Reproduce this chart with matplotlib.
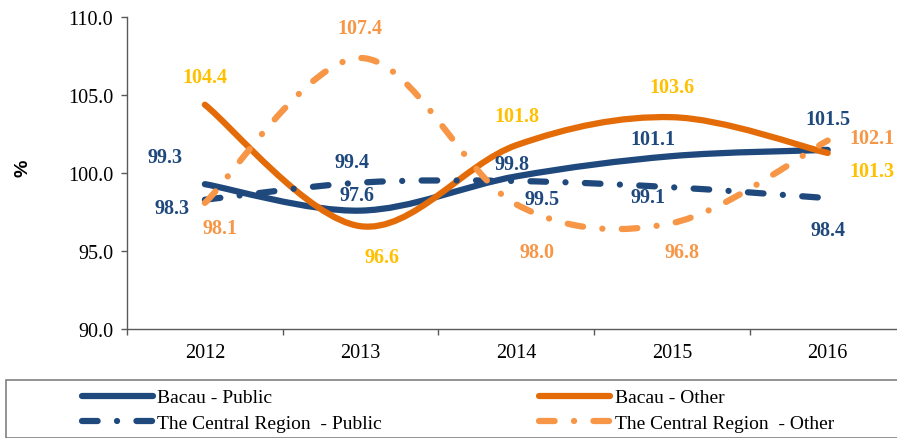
import matplotlib
matplotlib.use("Agg")
import matplotlib.pyplot as plt
from matplotlib.path import Path
from matplotlib.patches import PathPatch, Rectangle
from matplotlib.lines import Line2D

# data
years = ["2012", "2013", "2014", "2015", "2016"]
bacau_public = [99.3, 97.6, 99.8, 101.1, 101.5]
bacau_other = [104.4, 96.6, 101.8, 103.6, 101.3]
central_public = [98.3, 99.4, 99.5, 99.1, 98.4]
central_other = [98.1, 107.4, 98.0, 96.8, 102.1]
names = ["Bacau - Public", "Bacau - Other",
         "The Central Region  - Public", "The Central Region  - Other"]

DARK_BLUE = "#1F497D"
ORANGE = "#E36C09"
LIGHT_ORANGE = "#F79646"
GOLD = "#FFC000"
DASHDOT = (0, (2.5, 3.1, 0.01, 3.1))

plt.rcParams["font.family"] = ["Liberation Serif", "DejaVu Serif"]


def smooth_path(xs, ys):
    # excel-like smoothed line: cubic bezier through every point
    pts = list(zip(xs, ys))
    n = len(pts)
    verts = [pts[0]]
    codes = [Path.MOVETO]
    for i in range(n - 1):
        p0 = pts[max(i - 1, 0)]
        p1 = pts[i]
        p2 = pts[i + 1]
        p3 = pts[min(i + 2, n - 1)]
        c1 = (p1[0] + (p2[0] - p0[0]) / 6, p1[1] + (p2[1] - p0[1]) / 6)
        c2 = (p2[0] - (p3[0] - p1[0]) / 6, p2[1] - (p3[1] - p1[1]) / 6)
        verts += [c1, c2, p2]
        codes += [Path.CURVE4] * 3
    return Path(verts, codes)


fig = plt.figure(figsize=(8.97, 4.39), dpi=100)
ax = fig.add_axes([127 / 897, 1 - 330 / 439, 1 - 127 / 897, (330 - 18.5) / 439])

x = list(range(len(years)))
series = [
    (bacau_public, DARK_BLUE, "-", DARK_BLUE,
     [(-40, 27), (-4, 16), (-4, 12), (-19, 17), (0, 31)]),
    (bacau_other, ORANGE, "-", GOLD,
     [(0, 28), (21, -31), (1, 29), (0, 30), (44, -18)]),
    (central_public, DARK_BLUE, DASHDOT, DARK_BLUE,
     [(-33, -8), (-9, 21), (26, -18), (-24, -10), (0, -32)]),
    (central_other, LIGHT_ORANGE, DASHDOT, LIGHT_ORANGE,
     [(15, -25), (-1, 30), (21, -48), (10, -29), (44, 3)]),
]

handles = []
for (vals, col, ls, lab_col, offs), name in zip(series, names):
    patch = PathPatch(smooth_path(x, vals), fill=False, edgecolor=col,
                      linewidth=4.5, linestyle=ls, capstyle="round",
                      joinstyle="round", zorder=3)
    ax.add_patch(patch)
    handles.append(Line2D([], [], color=col, lw=4.5, linestyle=ls,
                          dash_capstyle="round", solid_capstyle="round",
                          label=name))

for vals, col, ls, lab_col, offs in series:
    for xi, v, (dx, dy) in zip(x, vals, offs):
        ax.annotate(f"{v:.1f}", (xi, v), xytext=(dx, dy),
                    textcoords="offset pixels", ha="center", va="center",
                    color=lab_col, fontsize=14.5, fontweight="bold", zorder=5)

ax.set_xlim(-0.5, 4.445)
ax.set_ylim(90, 110)
ax.set_yticks([90, 95, 100, 105, 110])
ax.set_yticklabels([f"{t:.1f}" for t in [90, 95, 100, 105, 110]])
ax.set_xticks(x)
ax.set_xticklabels(years)
ax.set_xticks([-0.5, 0.5, 1.5, 2.5, 3.5], minor=True)
ax.tick_params(axis="x", which="major", length=0, pad=10, labelsize=14.5)
ax.tick_params(axis="x", which="minor", length=4, width=1, color="#595959",
               direction="out")
ax.tick_params(axis="y", length=4, width=1, color="#595959", pad=6,
               labelsize=14.5)
for s in ["top", "right"]:
    ax.spines[s].set_visible(False)
for s in ["left", "bottom"]:
    ax.spines[s].set_color("#595959")
    ax.spines[s].set_linewidth(1)

fig.text(23 / 897, 1 - 168 / 439, "%", rotation=90, ha="center", va="center",
         fontsize=14, fontweight="bold", family="Liberation Sans")

# legend box at the bottom
fig.patches.append(Rectangle((6 / 897, 0), 1.0, 1 - 381 / 439,
                             transform=fig.transFigure, fill=False,
                             edgecolor="#808080", linewidth=1.2))
fig.legend(handles=[handles[0], handles[2], handles[1], handles[3]],
           ncol=2, frameon=False, loc="upper left",
           bbox_to_anchor=(74 / 897, 1 - 382 / 439), fontsize=14,
           handlelength=3.65, handletextpad=0.22, columnspacing=8.1,
           labelspacing=0.4, borderaxespad=0)

fig.savefig("out.png", dpi=100)
